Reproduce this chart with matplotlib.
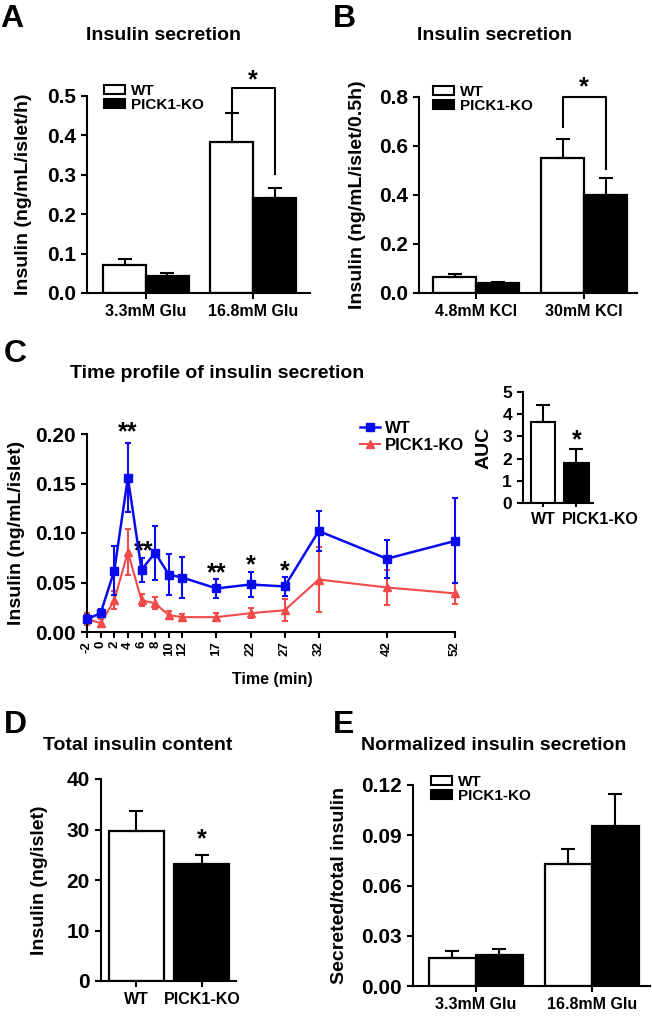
import numpy as np
import matplotlib
matplotlib.use('Agg')
import matplotlib.pyplot as plt
from matplotlib.patches import Patch
from matplotlib.lines import Line2D
import matplotlib.transforms as mtransforms

plt.rcParams['font.family'] = ['Liberation Sans', 'DejaVu Sans']
plt.rcParams['font.weight'] = 'bold'
plt.rcParams['axes.labelweight'] = 'bold'
plt.rcParams['axes.linewidth'] = 1.5
plt.rcParams['xtick.major.width'] = 1.5
plt.rcParams['ytick.major.width'] = 1.5
plt.rcParams['xtick.major.size'] = 4.5
plt.rcParams['ytick.major.size'] = 4.5

# ---------------- data ----------------
groups_A = ['3.3mM Glu', '16.8mM Glu']
wt_A = [0.070, 0.384]
wt_A_err = [0.016, 0.073]
ko_A = [0.042, 0.242]
ko_A_err = [0.010, 0.025]

groups_B = ['4.8mM KCl', '30mM KCl']
wt_B = [0.064, 0.549]
wt_B_err = [0.015, 0.079]
ko_B = [0.041, 0.400]
ko_B_err = [0.005, 0.068]

time_C = [-2, 0, 2, 4, 6, 8, 10, 12, 17, 22, 27, 32, 42, 52]
wt_C = [0.013, 0.019, 0.062, 0.156, 0.063, 0.080, 0.058, 0.055, 0.044, 0.048, 0.046, 0.102, 0.074, 0.092]
wt_C_err = [0.004, 0.004, 0.025, 0.035, 0.012, 0.027, 0.021, 0.021, 0.010, 0.013, 0.010, 0.020, 0.019, 0.043]
ko_C = [0.013, 0.009, 0.032, 0.081, 0.032, 0.029, 0.017, 0.015, 0.015, 0.019, 0.022, 0.053, 0.045, 0.039]
ko_C_err = [0.006, 0.004, 0.009, 0.023, 0.006, 0.006, 0.004, 0.003, 0.004, 0.005, 0.011, 0.033, 0.018, 0.011]
sig_C_time = [4, 6, 17, 22, 27]
sig_C_text = ['**', '**', '**', '*', '*']

auc_groups = ['WT', 'PICK1-KO']
auc_vals = [3.65, 1.81]
auc_err = [0.75, 0.62]

groups_D = ['WT', 'PICK1-KO']
total_D = [29.8, 23.2]
total_D_err = [3.9, 1.7]

groups_E = ['3.3mM Glu', '16.8mM Glu']
wt_E = [0.017, 0.073]
wt_E_err = [0.004, 0.009]
ko_E = [0.0185, 0.0955]
ko_E_err = [0.0035, 0.019]

BLUE = '#0a0af0'
RED = '#f04a4a'

W, H = 652, 1016
fig = plt.figure(figsize=(W / 100, H / 100), dpi=100)


def add_ax(l, t, r, b):
    return fig.add_axes([l / W, 1 - b / H, (r - l) / W, (b - t) / H])


def ftext(x, y, s, **kw):
    fig.text(x / W, 1 - y / H, s, **kw)


def style(ax):
    for s in ['top', 'right']:
        ax.spines[s].set_visible(False)
    ax.tick_params(direction='out')


def star(ax, x, y, s, size=18):
    # place glyph visual center at (x, y)
    tr = ax.transData + mtransforms.ScaledTranslation(0, -0.55 * size / 72, fig.dpi_scale_trans)
    ax.text(x, y, s, transform=tr, ha='center', va='baseline', fontsize=size,
            fontweight='bold', clip_on=False)


def grouped(ax, wt, wte, ko, koe, labels, w):
    x = np.arange(len(labels))
    ax.bar(x - w / 2, wt, w, color='white', edgecolor='black', linewidth=1.6, zorder=2)
    ax.bar(x + w / 2, ko, w, color='black', edgecolor='black', linewidth=1.6, zorder=2)
    ax.errorbar(x - w / 2, wt, yerr=[np.zeros(len(wt)), wte], fmt='none', ecolor='black',
                elinewidth=1.5, capsize=5, capthick=1.5, zorder=3)
    ax.errorbar(x + w / 2, ko, yerr=[np.zeros(len(ko)), koe], fmt='none', ecolor='black',
                elinewidth=1.5, capsize=5, capthick=1.5, zorder=1)
    ax.set_xticks(x)
    ax.set_xticklabels(labels, fontsize=11.5)
    return x


def bar_legend(ax, x, y, fs=11):
    h = [Patch(facecolor='white', edgecolor='black', linewidth=1.5),
         Patch(facecolor='black', edgecolor='black', linewidth=1.5)]
    ax.legend(h, ['WT', 'PICK1-KO'], loc='upper left', bbox_to_anchor=(x / W, 1 - y / H),
              bbox_transform=fig.transFigure, frameon=False, fontsize=fs, borderpad=0,
              borderaxespad=0, handlelength=1.4, handleheight=0.6, handletextpad=0.35,
              labelspacing=0.0)


# ---------------- Panel A ----------------
axA = add_ax(87, 96, 310, 293)
style(axA)
xa = grouped(axA, wt_A, wt_A_err, ko_A, ko_A_err, groups_A, 0.40)
axA.set_xlim(-0.55, 1.53)
axA.set_ylim(0, 0.5)
axA.set_yticks([0.0, 0.1, 0.2, 0.3, 0.4, 0.5])
axA.set_yticklabels(['0.0', '0.1', '0.2', '0.3', '0.4', '0.5'], fontsize=15)
axA.set_ylabel('Insulin (ng/mL/islet/h)', fontsize=14)
axA.yaxis.set_label_coords((32 - 87) / 223, 0.5)
axA.plot([1 - 0.2, 1 - 0.2, 1 + 0.2, 1 + 0.2], [0.455, 0.521, 0.521, 0.303], color='black',
         lw=1.5, clip_on=False)
star(axA, 1, 0.558, '*')
bar_legend(axA, 104, 84)
ftext(163, 35, 'Insulin secretion', ha='center', va='center', fontsize=14)
ftext(0, 19, 'A', ha='left', va='center', fontsize=23)

# ---------------- Panel B ----------------
axB = add_ax(419, 97, 637, 293)
style(axB)
grouped(axB, wt_B, wt_B_err, ko_B, ko_B_err, groups_B, 0.40)
axB.set_xlim(-0.53, 1.49)
axB.set_ylim(0, 0.8)
axB.set_yticks([0.0, 0.2, 0.4, 0.6, 0.8])
axB.set_yticklabels(['0.0', '0.2', '0.4', '0.6', '0.8'], fontsize=15)
axB.set_ylabel('Insulin (ng/mL/islet/0.5h)', fontsize=14)
axB.yaxis.set_label_coords((366 - 419) / 218, 0.5)
axB.plot([0.8, 0.8, 1.2, 1.2], [0.678, 0.80, 0.80, 0.508], color='black', lw=1.5, clip_on=False)
star(axB, 1, 0.868, '*')
bar_legend(axB, 433, 85)
ftext(495, 35, 'Insulin secretion', ha='center', va='center', fontsize=14)
ftext(333, 19, 'B', ha='left', va='center', fontsize=23)

# ---------------- Panel C ----------------
axC = add_ax(87, 434, 455, 632)
style(axC)
axC.errorbar(time_C, ko_C, yerr=ko_C_err, color=RED, marker='^', markersize=5.5, lw=1.5,
             elinewidth=1.5, capsize=2.5, capthick=1.5, zorder=2, clip_on=False)
axC.errorbar(time_C, wt_C, yerr=wt_C_err, color=BLUE, marker='s', markersize=5.5, lw=1.8,
             elinewidth=1.5, capsize=2.5, capthick=1.5, zorder=3, clip_on=False)
axC.set_xlim(-2, 52)
axC.set_ylim(0, 0.2)
axC.set_xticks(time_C)
axC.set_xticklabels([str(t) for t in time_C], rotation=90, fontsize=9.5)
axC.tick_params(axis='x', pad=2)
axC.set_yticks([0.0, 0.05, 0.10, 0.15, 0.20])
axC.set_yticklabels(['0.00', '0.05', '0.10', '0.15', '0.20'], fontsize=15)
axC.set_ylabel('Insulin (ng/mL/islet)', fontsize=14)
axC.yaxis.set_label_coords((25 - 87) / 368, 0.5)
axC.set_xlabel('Time (min)', fontsize=11.5)
axC.xaxis.set_label_coords((272 - 87) / 368, (632 - 672) / 198)
sig_y = [0.209, 0.088, 0.066, 0.074, 0.068]
sig_x = [4, 6.3, 17, 22, 27]
for t, s, xx, yy in zip(sig_C_time, sig_C_text, sig_x, sig_y):
    star(axC, xx, yy, s)
hC = [Line2D([], [], color=BLUE, marker='s', markersize=5.5, lw=1.8),
      Line2D([], [], color=RED, marker='^', markersize=5.5, lw=1.5)]
axC.legend(hC, ['WT', 'PICK1-KO'], loc='upper left', bbox_to_anchor=(360 / W, 1 - 421 / H),
           bbox_transform=fig.transFigure, frameon=False, fontsize=12, borderpad=0,
           borderaxespad=0, handlelength=1.2, handletextpad=0.3, labelspacing=0.1)
ftext(217, 374, 'Time profile of insulin secretion', ha='center', va='center', fontsize=14)
ftext(4, 354, 'C', ha='left', va='center', fontsize=23)

# ---------------- AUC inset ----------------
axI = add_ax(523, 392, 593, 503)
style(axI)
xi = np.arange(len(auc_groups))
axI.bar(xi, auc_vals, 0.73, color=['white', 'black'], edgecolor='black', linewidth=1.5, zorder=2)
axI.errorbar(xi, auc_vals, yerr=[np.zeros(2), auc_err], fmt='none', ecolor='black',
             elinewidth=1.5, capsize=5, capthick=1.5, zorder=3)
axI.set_xlim(-0.6, 1.5)
axI.set_ylim(0, 5)
axI.set_yticks([0, 1, 2, 3, 4, 5])
axI.set_yticklabels(['0', '1', '2', '3', '4', '5'], fontsize=12.5)
axI.set_xticks(xi)
axI.set_xticklabels(auc_groups, fontsize=11.5)
axI.tick_params(axis='x', length=3)
lbl = axI.get_xticklabels()[1]
lbl.set_transform(lbl.get_transform() + mtransforms.ScaledTranslation(0.24, 0, fig.dpi_scale_trans))
axI.set_ylabel('AUC', fontsize=14)
axI.yaxis.set_label_coords((493 - 523) / 70, 0.5)
star(axI, 1, 3.15, '*')

# ---------------- Panel D ----------------
axD = add_ax(101, 779, 236, 981)
style(axD)
xd = np.arange(len(groups_D))
axD.bar(xd, total_D, 0.84, color=['white', 'black'], edgecolor='black', linewidth=1.6, zorder=2)
axD.errorbar(xd, total_D, yerr=[np.zeros(2), total_D_err], fmt='none', ecolor='black',
             elinewidth=1.5, capsize=5, capthick=1.5, zorder=3)
axD.set_xlim(-0.54, 1.52)
axD.set_ylim(0, 40)
axD.set_yticks([0, 10, 20, 30, 40])
axD.set_yticklabels(['0', '10', '20', '30', '40'], fontsize=15)
axD.set_xticks(xd)
axD.set_xticklabels(groups_D, fontsize=11.5)
axD.set_ylabel('Insulin (ng/islet)', fontsize=14)
axD.yaxis.set_label_coords((48 - 101) / 135, 0.5)
star(axD, 1, 29.3, '*')
ftext(138, 745, 'Total insulin content', ha='center', va='center', fontsize=14)
ftext(4, 725, 'D', ha='left', va='center', fontsize=23)

# ---------------- Panel E ----------------
axE = add_ax(413, 785, 650, 986)
style(axE)
grouped(axE, wt_E, wt_E_err, ko_E, ko_E_err, groups_E, 0.405)
axE.set_xlim(-0.54, 1.50)
axE.set_ylim(0, 0.12)
axE.set_yticks([0.0, 0.03, 0.06, 0.09, 0.12])
axE.set_yticklabels(['0.00', '0.03', '0.06', '0.09', '0.12'], fontsize=15)
axE.set_ylabel('Secreted/total insulin', fontsize=14)
axE.yaxis.set_label_coords((348 - 413) / 237, 0.5)
bar_legend(axE, 431, 775)
ftext(494, 745, 'Normalized insulin secretion', ha='center', va='center', fontsize=14)
ftext(333, 725, 'E', ha='left', va='center', fontsize=23)

fig.savefig('out.png', dpi=100)
